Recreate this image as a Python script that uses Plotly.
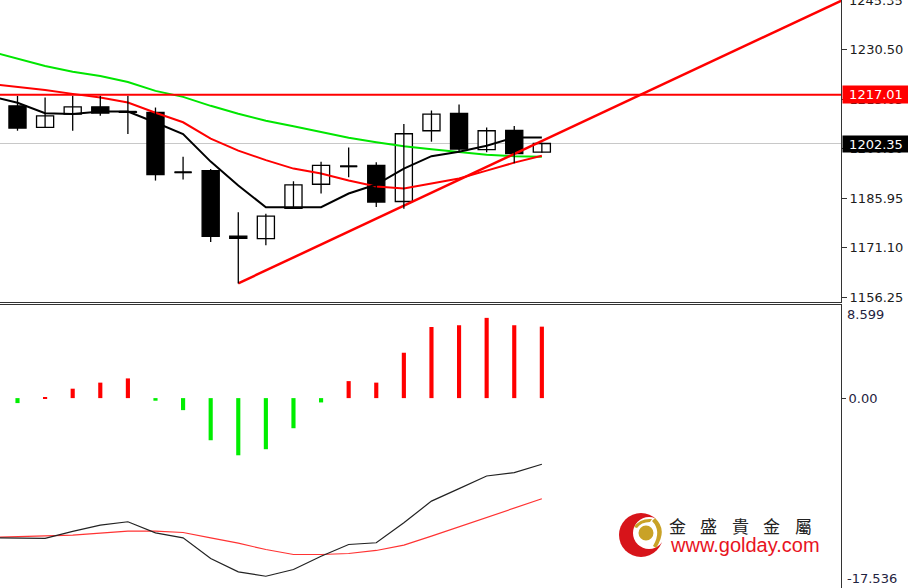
import plotly.graph_objects as go

W, H = 908, 588

# ---------------- data ----------------
idx = list(range(20))
ma_idx = list(range(-1, 20))

open_ = [1213.65, 1207.16, 1211.17, 1213.35, 1211.86, 1211.65, 1193.71, 1194.22, 1174.58, 1173.80,
         1182.86, 1190.12, 1195.50, 1195.80, 1184.95, 1206.18, 1211.41, 1200.50, 1206.26, 1199.75]
high = [1216.64, 1216.13, 1216.64, 1216.64, 1216.64, 1213.14, 1198.40, 1194.72, 1181.75, 1181.27,
        1191.02, 1196.91, 1201.18, 1196.70, 1208.18, 1212.25, 1214.04, 1207.16, 1207.58, 1202.60]
low = [1206.18, 1207.10, 1206.18, 1210.66, 1205.19, 1191.23, 1191.53, 1172.78, 1160.35, 1171.80,
       1182.71, 1187.34, 1192.21, 1183.31, 1182.77, 1202.89, 1199.69, 1199.69, 1196.46, 1199.60]
close = [1206.98, 1210.66, 1213.35, 1211.47, 1211.71, 1193.02, 1193.71, 1174.49, 1173.89, 1180.56,
         1189.94, 1195.80, 1195.50, 1184.80, 1205.28, 1211.17, 1200.70, 1206.18, 1199.30, 1202.35]

ma_black = [1216.64, 1214.55, 1211.41, 1211.17, 1211.95, 1211.95, 1208.66, 1205.19, 1196.91, 1189.73,
            1183.25, 1183.25, 1183.25, 1187.34, 1190.03, 1194.82, 1198.55, 1199.90, 1201.69, 1204.17, 1204.17]
ma_red = [1220.23, 1219.33, 1218.43, 1217.24, 1216.13, 1214.64, 1211.56, 1208.72, 1203.78, 1200.20,
          1197.36, 1194.82, 1193.32, 1191.23, 1189.43, 1188.84, 1190.33, 1191.83, 1194.22, 1196.61, 1198.70]
ma_green = [1230.00, 1227.90, 1225.60, 1223.90, 1222.60, 1220.82, 1218.13, 1216.34, 1213.65, 1211.26,
            1209.16, 1207.52, 1205.88, 1204.08, 1202.74, 1201.54, 1200.64, 1199.75, 1199.00, 1198.55, 1198.40]

trend_x = [8, 30.5]
trend_y = [1160.40, 1247.70]

resistance = 1217.01
last_price = 1202.35

price_ticks = [1156.25, 1171.10, 1185.95, 1200.80, 1215.65, 1230.50]
price_tick_text = ["1156.25", "1171.10", "1185.95", "1200.80", "1215.65", "1230.50"]
price_top = 1245.35

hist = [-0.46, 0.05, 0.87, 1.43, 1.82, -0.24, -1.11, -3.89, -5.28, -4.72,
        -2.78, -0.40, 1.57, 1.43, 4.19, 6.57, 6.73, 7.41, 6.73, 6.60]
line_black = [-12.90, -12.96, -12.96, -12.31, -11.73, -11.42, -12.44, -12.90, -14.81, -16.05, -16.45,
              -15.83, -14.60, -13.52, -13.36, -11.51, -9.51, -8.36, -7.19, -6.88, -6.11]
line_red = [-12.87, -12.81, -12.78, -12.66, -12.47, -12.29, -12.29, -12.41, -12.90, -13.40, -13.98,
            -14.44, -14.44, -14.35, -14.07, -13.58, -12.75, -11.88, -11.05, -10.19, -9.29]
osc_max, osc_min = 8.599, -17.536
osc_ticks = [0.0]
osc_tick_text = ["0.00"]

brand_cn = "金盛貴金屬"
brand_url = "www.golday.com"

# ---------------- helpers ----------------
def px(x):
    return x / W

def py(y):
    return 1 - y / H

BODY_W = 0.62

fig = go.Figure()

# moving averages / trend line (behind candles)
fig.add_trace(go.Scatter(x=ma_idx, y=ma_green, mode="lines", line=dict(color="#00e600", width=2),
                         xaxis="x", yaxis="y", hoverinfo="skip"))
fig.add_trace(go.Scatter(x=ma_idx, y=ma_red, mode="lines", line=dict(color="#ff0000", width=2),
                         xaxis="x", yaxis="y", hoverinfo="skip"))
fig.add_trace(go.Scatter(x=trend_x, y=trend_y, mode="lines", line=dict(color="#ff0000", width=2.5),
                         xaxis="x", yaxis="y", hoverinfo="skip"))

# candle wicks
wx, wy = [], []
for i, h, l in zip(idx, high, low):
    wx += [i, i, None]
    wy += [l, h, None]
fig.add_trace(go.Scatter(x=wx, y=wy, mode="lines", line=dict(color="#000000", width=1.3),
                         xaxis="x", yaxis="y", hoverinfo="skip"))

# candle bodies
base = [min(o, c) for o, c in zip(open_, close)]
size = [abs(c - o) for o, c in zip(open_, close)]
fills = ["#ffffff" if c > o else "#000000" for o, c in zip(open_, close)]
fig.add_trace(go.Bar(x=idx, y=size, base=base, width=BODY_W,
                     marker=dict(color=fills, line=dict(color="#000000", width=1.3)),
                     xaxis="x", yaxis="y", hoverinfo="skip"))

# doji bodies (open == close or nearly) as short horizontal strokes
dx, dy = [], []
for i, o, c in zip(idx, open_, close):
    if abs(c - o) < 0.3:
        dx += [i - BODY_W / 2, i + BODY_W / 2, None]
        dy += [o, o, None]
fig.add_trace(go.Scatter(x=dx, y=dy, mode="lines", line=dict(color="#000000", width=2),
                         xaxis="x", yaxis="y", hoverinfo="skip"))

fig.add_trace(go.Scatter(x=ma_idx, y=ma_black, mode="lines", line=dict(color="#000000", width=2),
                         xaxis="x", yaxis="y", hoverinfo="skip"))

# oscillator panel
bar_colors = ["#ff0000" if v > 0 else "#00ee00" for v in hist]
fig.add_trace(go.Bar(x=idx, y=hist, width=0.15, marker=dict(color=bar_colors, line=dict(width=0)),
                     xaxis="x2", yaxis="y2", hoverinfo="skip"))
fig.add_trace(go.Scatter(x=ma_idx, y=line_red, mode="lines", line=dict(color="#ff3333", width=1.2),
                         xaxis="x2", yaxis="y2", hoverinfo="skip"))
fig.add_trace(go.Scatter(x=ma_idx, y=line_black, mode="lines", line=dict(color="#222222", width=1.2),
                         xaxis="x2", yaxis="y2", hoverinfo="skip"))

xr = [-0.634, 29.84]
xdom = [0, 841 / W]
axis_font = dict(family="DejaVu Sans", size=13, color="#1c1c1c")
osc_font = dict(family="DejaVu Sans", size=13, color="#1f2340")

fig.update_layout(
    width=W, height=H, margin=dict(l=0, r=0, t=0, b=0, autoexpand=False),
    paper_bgcolor="white", plot_bgcolor="white", showlegend=False,
    barmode="overlay",
    xaxis=dict(domain=xdom, range=xr, anchor="y", showticklabels=False, ticks="",
               showgrid=False, zeroline=False, showline=True, linecolor="#333333", linewidth=1,
               automargin=False),
    yaxis=dict(domain=[1 - 302 / H, 1], range=[1154.8, 1245.4], side="right", anchor="x",
               tickvals=price_ticks, ticktext=price_tick_text, ticks="outside", ticklen=5,
               tickcolor="#333333", showgrid=False, zeroline=False, showline=True,
               linecolor="#333333", linewidth=1, tickfont=axis_font, automargin=False),
    xaxis2=dict(domain=xdom, range=xr, anchor="y2", side="top", showticklabels=False, ticks="",
                showgrid=False, zeroline=False, showline=True, linecolor="#333333", linewidth=1,
                automargin=False),
    yaxis2=dict(domain=[0, 1 - 305 / H], range=[osc_min, osc_max], side="right", anchor="x2",
                tickvals=osc_ticks, ticktext=osc_tick_text, ticks="outside", ticklen=4,
                tickcolor="#333333", showgrid=False, zeroline=False, showline=True,
                linecolor="#333333", linewidth=1, automargin=False, tickfont=osc_font),
)

# top price label, half cut by the top edge as in the terminal
fig.add_annotation(xref="paper", x=px(847), xanchor="left", yref="y", y=price_top, yanchor="middle",
                   text=f"{price_top:.2f}", showarrow=False, font=axis_font)

# horizontal lines
fig.add_shape(type="line", xref="paper", x0=0, x1=xdom[1], yref="y", y0=last_price, y1=last_price,
              line=dict(color="#c8c8c8", width=1), layer="below")
fig.add_shape(type="line", xref="paper", x0=0, x1=xdom[1], yref="y", y0=resistance, y1=resistance,
              line=dict(color="#ff0000", width=2))

# price tags
fig.add_annotation(xref="paper", x=px(842), xanchor="left", yref="y", y=resistance, yanchor="middle",
                   text=f"{resistance:.2f}", showarrow=False, bgcolor="#ff0000", borderpad=0,
                   width=66, height=17, align="center",
                   font=dict(family="DejaVu Sans", size=13, color="white"))
fig.add_annotation(xref="paper", x=px(842), xanchor="left", yref="y", y=last_price, yanchor="middle",
                   text=f"{last_price:.2f}", showarrow=False, bgcolor="#000000", borderpad=0,
                   width=66, height=16, align="center",
                   font=dict(family="DejaVu Sans", size=13, color="white"))
# oscillator extremes (labelled at the panel edges)
fig.add_annotation(xref="paper", x=px(845), xanchor="left", yref="y2", y=osc_max, yanchor="top",
                   text=f"{osc_max:.3f}", showarrow=False, font=osc_font)
fig.add_annotation(xref="paper", x=px(845), xanchor="left", yref="y2", y=osc_min, yanchor="bottom",
                   text=f"{osc_min:.3f}", showarrow=False, font=osc_font)

# logo
def circ(cx, cy, r, color):
    fig.add_shape(type="circle", xref="paper", yref="paper",
                  x0=px(cx - r), x1=px(cx + r), y0=py(cy + r), y1=py(cy - r),
                  fillcolor=color, line=dict(width=0))

circ(641, 535, 22, "#d7141a")
circ(649, 533, 16, "#ffffff")
circ(646, 533, 7.5, "#c9a227")
fig.add_shape(type="path", xref="paper", yref="paper",
              path=f"M {px(655)},{py(518)} Q {px(668)},{py(530)} {px(656)},{py(548)} "
                   f"L {px(653)},{py(546)} Q {px(662)},{py(531)} {px(652)},{py(521)} Z",
              fillcolor="#c9a227", line=dict(width=0))
fig.add_shape(type="path", xref="paper", yref="paper",
              path=f"M {px(634)},{py(527)} Q {px(640)},{py(518)} {px(652)},{py(519)} "
                   f"L {px(650)},{py(522)} Q {px(641)},{py(522)} {px(637)},{py(528)} Z",
              fillcolor="#c9a227", line=dict(width=0))

for k, ch in enumerate(brand_cn):
    fig.add_annotation(xref="paper", yref="paper", x=px(677 + 31.5 * k), y=py(525),
                       xanchor="center", yanchor="middle", text=ch, showarrow=False,
                       font=dict(family="Noto Sans CJK TC", size=17, color="#222222"))
fig.add_annotation(xref="paper", yref="paper", x=px(668), y=py(545), xanchor="left", yanchor="middle",
                   text=brand_url, showarrow=False,
                   font=dict(family="Liberation Sans", size=20, color="#e8141e"))

fig.write_html("out.html", config={"displayModeBar": False},
               post_script="document.body.style.margin='0';document.body.style.overflow='hidden';")
